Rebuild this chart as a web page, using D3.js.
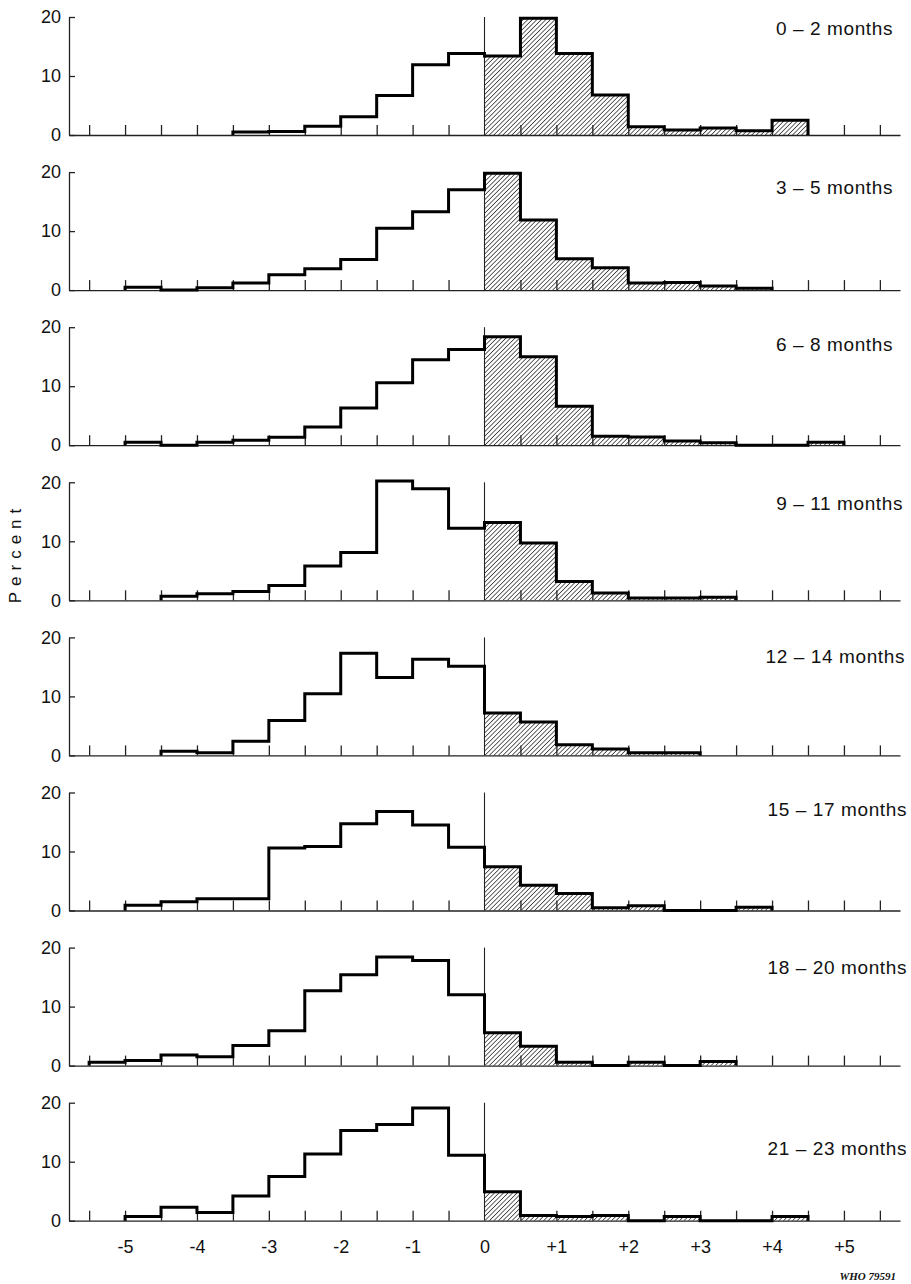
<!DOCTYPE html>
<meta charset="utf-8" />
<style>
  body { margin: 0; background: #fff; }
  svg { display: block; }
  text { font-family: "Liberation Sans", Arial, Helvetica, sans-serif; fill: #111; }
</style>
<script src="https://cdn.jsdelivr.net/npm/d3@7"></script>
<svg id="chart" width="911" height="1284"></svg>
<script>
  // half-unit bins from -5.5 to +5.5 (left edges)
  const binEdges = d3.range(-5.5, 5.5, 0.5);
  const ageGroups = ["0 – 2 months", "3 – 5 months", "6 – 8 months", "9 – 11 months",
                     "12 – 14 months", "15 – 17 months", "18 – 20 months", "21 – 23 months"];

  // percent in each bin
  const m0_2   = [0, 0, 0, 0, 0.5, 0.6, 1.5, 3.1, 6.7, 11.9, 13.8, 13.4, 19.8, 13.8, 6.8, 1.4, 0.85, 1.2, 0.7, 2.5, 0, 0];
  const m3_5   = [0, 0.5, 0, 0.4, 1.2, 2.6, 3.6, 5.2, 10.5, 13.3, 17.0, 19.8, 11.9, 5.3, 3.8, 1.2, 1.3, 0.7, 0.3, 0, 0, 0];
  const m6_8   = [0, 0.5, 0, 0.5, 0.85, 1.35, 3.1, 6.3, 10.6, 14.5, 16.2, 18.4, 15.0, 6.6, 1.5, 1.4, 0.7, 0.4, 0, 0, 0.5, 0];
  const m9_11  = [0, 0, 0.7, 1.1, 1.5, 2.5, 5.8, 8.1, 20.2, 18.9, 12.2, 13.2, 9.7, 3.2, 1.25, 0.4, 0.4, 0.5, 0, 0, 0, 0];
  const m12_14 = [0, 0, 0.7, 0.45, 2.4, 5.9, 10.45, 17.3, 13.2, 16.3, 15.1, 7.2, 5.65, 1.8, 1.1, 0.45, 0.45, 0, 0, 0, 0, 0];
  const m15_17 = [0, 0.9, 1.5, 2.0, 2.0, 10.6, 10.85, 14.7, 16.8, 14.5, 10.7, 7.4, 4.3, 2.9, 0.45, 0.8, 0, 0, 0.55, 0, 0, 0];
  const m18_20 = [0.55, 0.85, 1.8, 1.5, 3.4, 5.9, 12.7, 15.4, 18.4, 17.8, 12.0, 5.55, 3.3, 0.55, 0, 0.55, 0, 0.7, 0, 0, 0, 0];
  const m21_23 = [0, 0.7, 2.3, 1.4, 4.2, 7.5, 11.3, 15.3, 16.3, 19.1, 11.1, 4.9, 0.9, 0.7, 0.9, 0, 0.7, 0, 0, 0.7, 0, 0];
  const series = [m0_2, m3_5, m6_8, m9_11, m12_14, m15_17, m18_20, m21_23];

  const yTicks = [0, 10, 20];
  const xLabelTicks = [-5, -4, -3, -2, -1, 0, 1, 2, 3, 4, 5];

  const svg = d3.select("#chart");
  const binW = 0.5;

  // layout
  const firstBase = 135, panelStep = 155.1;
  // label anchor per panel: [right edge, offset above baseline]
  const labelPos = [[893, 100], [893, 96], [893, 94], [903, 90], [905, 92], [907, 95], [907, 92], [907, 66]];

  const x = d3.scaleLinear().domain([-5.78, 5.78]).range([69, 900]);
  const y = d3.scaleLinear().domain([0, 20]).range([0, -118]);

  // hatch for the positive side
  svg.append("defs").append("pattern")
    .attr("id", "hatch")
    .attr("patternUnits", "userSpaceOnUse")
    .attr("width", 3.2).attr("height", 3.2)
    .attr("patternTransform", "rotate(45)")
    .append("line")
    .attr("x1", 0).attr("y1", 0).attr("x2", 0).attr("y2", 3.2)
    .attr("stroke", "#111").attr("stroke-width", 1.3);

  const step = d3.line()
    .x(d => x(d[0]))
    .y(d => y(d[1]))
    .curve(d3.curveStepAfter);

  series.forEach(function (vals, i) {
    const g = svg.append("g")
      .attr("transform", "translate(0," + (firstBase + i * panelStep) + ")");

    const bins = vals.map((v, k) => ({ x0: binEdges[k], v: v }));

    // hatched bars for bins right of zero
    g.selectAll("rect.pos")
      .data(bins.filter(d => d.x0 >= 0 && d.v > 0))
      .enter().append("rect")
      .attr("class", "pos")
      .attr("x", d => x(d.x0))
      .attr("width", d => x(d.x0 + binW) - x(d.x0))
      .attr("y", d => y(d.v))
      .attr("height", d => -y(d.v))
      .attr("fill", "url(#hatch)");

    // baseline with upward ticks every half unit
    const tickVals = d3.range(-5.5, 5.51, 0.5).filter(t => Math.abs(t) > 1e-9);
    g.append("g")
      .call(d3.axisTop(x).tickValues(tickVals).tickSize(10).tickSizeOuter(0).tickFormat(""))
      .call(a => a.select(".domain").attr("stroke", "#222").attr("stroke-width", 1.3))
      .call(a => a.selectAll(".tick line").attr("stroke", "#222").attr("stroke-width", 1.3));

    // zero line
    g.append("line")
      .attr("x1", x(0)).attr("x2", x(0))
      .attr("y1", 0).attr("y2", y(20))
      .attr("stroke", "#222").attr("stroke-width", 1.1);

    // y axis
    g.append("g")
      .attr("transform", "translate(" + x(-5.78) + ",0)")
      .call(d3.axisLeft(y).tickValues(yTicks).tickSize(-6).tickSizeOuter(0).tickPadding(8))
      .call(a => a.select(".domain").attr("stroke", "#222").attr("stroke-width", 1.3))
      .call(a => a.selectAll(".tick line").attr("stroke", "#222").attr("stroke-width", 1.3))
      .call(a => a.selectAll(".tick text")
        .style("font-family", "'Liberation Sans', Arial, sans-serif")
        .style("font-size", "18px").attr("fill", "#111"));

    // histogram outline, trimmed to the nonzero range
    const first = vals.findIndex(v => v > 0);
    let last = vals.length - 1;
    while (last > 0 && vals[last] === 0) last--;
    const pts = [[binEdges[first], 0]];
    for (let k = first; k <= last; k++) pts.push([binEdges[k], vals[k]]);
    pts.push([binEdges[last] + binW, vals[last]]);
    pts.push([binEdges[last] + binW, 0]);
    g.append("path")
      .attr("d", step(pts))
      .attr("fill", "none")
      .attr("stroke", "#000")
      .attr("stroke-width", 3)
      .attr("stroke-linejoin", "miter");

    // age label
    g.append("text")
      .attr("x", labelPos[i][0])
      .attr("y", -labelPos[i][1])
      .attr("text-anchor", "end")
      .style("font-size", "19px")
      .style("letter-spacing", "0.6px")
      .text(ageGroups[i]);

    if (i === series.length - 1) {
      g.append("g")
        .call(d3.axisBottom(x).tickValues(xLabelTicks).tickSize(0).tickPadding(20)
          .tickFormat(d => d > 0 ? "+" + d : (d < 0 ? "-" + Math.abs(d) : "0")))
        .call(a => a.select(".domain").remove())
        .call(a => a.selectAll(".tick text")
          .style("font-family", "'Liberation Sans', Arial, sans-serif")
          .style("font-size", "18px").attr("fill", "#111"));
    }
  });

  // y title
  svg.append("text")
    .attr("transform", "translate(21,553) rotate(-90)")
    .attr("text-anchor", "middle")
    .style("font-size", "17px")
    .style("letter-spacing", "6px")
    .text("Percent");

  svg.append("text")
    .attr("x", 896).attr("y", 1280)
    .attr("text-anchor", "end")
    .style("font-family", "'Liberation Serif', 'DejaVu Serif', serif")
    .style("font-style", "italic")
    .style("font-weight", "bold")
    .style("font-size", "11px")
    .text("WHO 79591");
</script>
